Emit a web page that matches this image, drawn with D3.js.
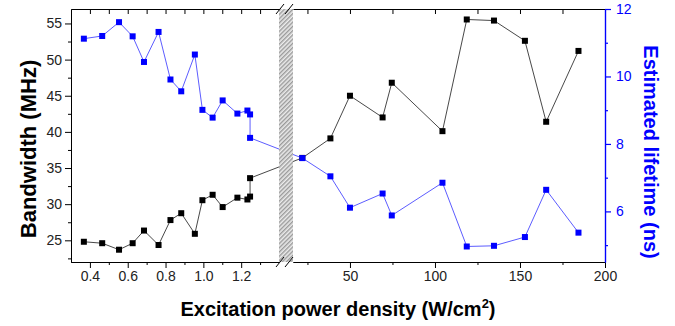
<!DOCTYPE html>
<html>
<head>
<meta charset="utf-8">
<script src="https://cdn.jsdelivr.net/npm/d3@7"></script>
<style>
  body { margin: 0; background: #fff; }
  #chart text { font-family: "Liberation Sans", Arial, sans-serif; }
  .tick text { font-size: 14px; fill: #222; }
  .right-axis .tick text { fill: #0000ff; }
  .axis-label { font-size: 20px; font-weight: bold; }
</style>
</head>
<body>
<div id="chart"></div>
<script>
// excitation power density, low range (W/cm2) and high range
const powerLow = [0.368, 0.465, 0.554, 0.626, 0.686, 0.763, 0.826, 0.883, 0.955, 0.995, 1.049, 1.102, 1.18, 1.233, 1.247, 1.247];
const powerHigh = [22, 38.5, 50, 69.2, 74.6, 104.4, 118.7, 134.7, 152.9, 165.4, 184.4];

// bandwidth (MHz)
const bandwidthLow = [24.8, 24.6, 23.7, 24.6, 26.35, 24.35, 27.8, 28.75, 25.9, 30.55, 31.3, 29.6, 30.9, 30.65, 31.05, 33.6];
const bandwidthHigh = [36.4, 39.1, 45.0, 42.0, 46.8, 40.1, 55.55, 55.4, 52.6, 41.4, 51.2];

// estimated lifetime (ns)
const lifetimeLow = [11.12, 11.2, 11.61, 11.19, 10.43, 11.32, 9.91, 9.56, 10.65, 9.01, 8.78, 9.29, 8.9, 8.99, 8.875, 8.18];
const lifetimeHigh = [7.58, 7.04, 6.11, 6.53, 5.88, 6.85, 4.96, 4.98, 5.24, 6.64, 5.37];

// tick labels
const xTicksLow = [0.4, 0.6, 0.8, 1.0, 1.2];
const xMinorLow = [0.5, 0.7, 0.9, 1.1, 1.3];
const xTicksHigh = [50, 100, 150, 200];
const xMinorHigh = [25, 75, 125, 175];
const bwTicks = [25, 30, 35, 40, 45, 50, 55];
const bwMinor = [22.5, 27.5, 32.5, 37.5, 42.5, 47.5, 52.5];
const ltTicks = [6, 8, 10, 12];
const ltMinor = [5, 7, 9, 11];

const width = 675, height = 326;
const plotLeft = 71, plotRight = 605, plotTop = 9, plotBottom = 262;
const breakL = 279, breakR = 293;

const svg = d3.select("#chart").append("svg")
  .attr("width", width)
  .attr("height", height);

// broken x axis: two linear pieces
const xLow = d3.scaleLinear().domain([0.3, 1.4]).range([plotLeft, breakL]);
const xHigh = d3.scaleLinear().domain([16.5, 200]).range([breakR, plotRight]);
const xPos = d => (d < 1.4 ? xLow(d) : xHigh(d));

const yBw = d3.scaleLinear().domain([22, 57]).range([plotBottom, plotTop]);
const yLt = d3.scaleLinear().domain([4.5, 12]).range([plotBottom, plotTop]);

const power = powerLow.concat(powerHigh);
const bandwidth = bandwidthLow.concat(bandwidthHigh);
const lifetime = lifetimeLow.concat(lifetimeHigh);
const bwData = power.map((p, i) => ({ x: p, y: bandwidth[i] }));
const ltData = power.map((p, i) => ({ x: p, y: lifetime[i] }));

// hatch pattern for the axis break
const defs = svg.append("defs");
const pat = defs.append("pattern")
  .attr("id", "hatch")
  .attr("patternUnits", "userSpaceOnUse")
  .attr("width", 3)
  .attr("height", 3)
  .attr("patternTransform", "rotate(45)");
pat.append("rect").attr("width", 3).attr("height", 3).attr("fill", "#ececec");
pat.append("line")
  .attr("x1", 0.75).attr("y1", 0).attr("x2", 0.75).attr("y2", 3)
  .attr("stroke", "#8c8c8c").attr("stroke-width", 1.2);

// draw one series
function drawSeries(data, yScale, lineColor, markColor) {
  const line = d3.line().x(d => xPos(d.x)).y(d => yScale(d.y));
  svg.append("path")
    .datum(data)
    .attr("d", line)
    .attr("fill", "none")
    .attr("stroke", lineColor)
    .attr("stroke-width", 0.9);
  svg.append("g")
    .selectAll("rect")
    .data(data)
    .enter()
    .append("rect")
    .attr("x", d => xPos(d.x) - 3)
    .attr("y", d => yScale(d.y) - 3)
    .attr("width", 6)
    .attr("height", 6)
    .attr("fill", markColor);
}

drawSeries(bwData, yBw, "#333", "#000");
drawSeries(ltData, yLt, "#4a4aff", "#0000ff");

// the break band
svg.append("rect")
  .attr("x", breakL)
  .attr("y", plotTop)
  .attr("width", breakR - breakL)
  .attr("height", plotBottom - plotTop)
  .attr("fill", "url(#hatch)");

// bottom axes
svg.append("g")
  .attr("transform", "translate(0," + plotBottom + ")")
  .call(d3.axisBottom(xLow).tickValues(xTicksLow).tickSize(6).tickSizeOuter(0).tickFormat(d3.format(".1f")));
svg.append("g")
  .attr("transform", "translate(0," + plotBottom + ")")
  .call(d3.axisBottom(xLow).tickValues(xMinorLow).tickSize(3).tickSizeOuter(0).tickFormat(""));
svg.append("g")
  .attr("transform", "translate(0," + plotBottom + ")")
  .call(d3.axisBottom(xHigh).tickValues(xTicksHigh).tickSize(6).tickSizeOuter(0));
svg.append("g")
  .attr("transform", "translate(0," + plotBottom + ")")
  .call(d3.axisBottom(xHigh).tickValues(xMinorHigh).tickSize(3).tickSizeOuter(0).tickFormat(""));

// top axes, ticks pointing in
[[xLow, xTicksLow.concat(xMinorLow)], [xHigh, xTicksHigh.concat(xMinorHigh)]].forEach(a => {
  svg.append("g")
    .attr("transform", "translate(0," + plotTop + ")")
    .call(d3.axisBottom(a[0]).tickValues(a[1].filter(v => v < 200)).tickSize(5).tickSizeOuter(0).tickFormat(""));
});

// left axis
svg.append("g")
  .attr("transform", "translate(" + plotLeft + ",0)")
  .call(d3.axisLeft(yBw).tickValues(bwTicks).tickSize(6).tickSizeOuter(0));
svg.append("g")
  .attr("transform", "translate(" + plotLeft + ",0)")
  .call(d3.axisLeft(yBw).tickValues(bwMinor).tickSize(3).tickSizeOuter(0).tickFormat(""));

// right axis (blue)
svg.append("g")
  .attr("class", "right-axis")
  .attr("transform", "translate(" + plotRight + ",0)")
  .call(d3.axisRight(yLt).tickValues(ltTicks).tickSize(6).tickPadding(5).tickSizeOuter(0));
svg.append("g")
  .attr("class", "right-axis")
  .attr("transform", "translate(" + plotRight + ",0)")
  .call(d3.axisRight(yLt).tickValues(ltMinor).tickSize(3).tickSizeOuter(0).tickFormat(""));
svg.selectAll(".right-axis path, .right-axis line").attr("stroke", "#0000ff").attr("stroke-width", 1.2);

// break marks
[plotTop, plotBottom].forEach(y => {
  [276, 285].forEach(x => {
    svg.append("line")
      .attr("x1", x).attr("y1", y + 5)
      .attr("x2", x + 8).attr("y2", y - 5)
      .attr("stroke", "#000")
      .attr("stroke-width", 1);
  });
});

// axis titles
const xTitle = svg.append("text")
  .attr("class", "axis-label")
  .attr("x", 338)
  .attr("y", 316)
  .attr("text-anchor", "middle");
xTitle.append("tspan").text("Excitation power density (W/cm");
xTitle.append("tspan").attr("font-size", "13px").attr("dy", -8).text("2");
xTitle.append("tspan").attr("dy", 8).text(")");

svg.append("text")
  .attr("class", "axis-label")
  .attr("transform", "translate(36,149) rotate(-90)")
  .attr("text-anchor", "middle")
  .style("font-size", "22px")
  .text("Bandwidth (MHz)");

svg.append("text")
  .attr("class", "axis-label")
  .attr("transform", "translate(644,152) rotate(90)")
  .attr("text-anchor", "middle")
  .attr("fill", "#0000ff")
  .text("Estimated lifetime (ns)");
</script>
</body>
</html>
